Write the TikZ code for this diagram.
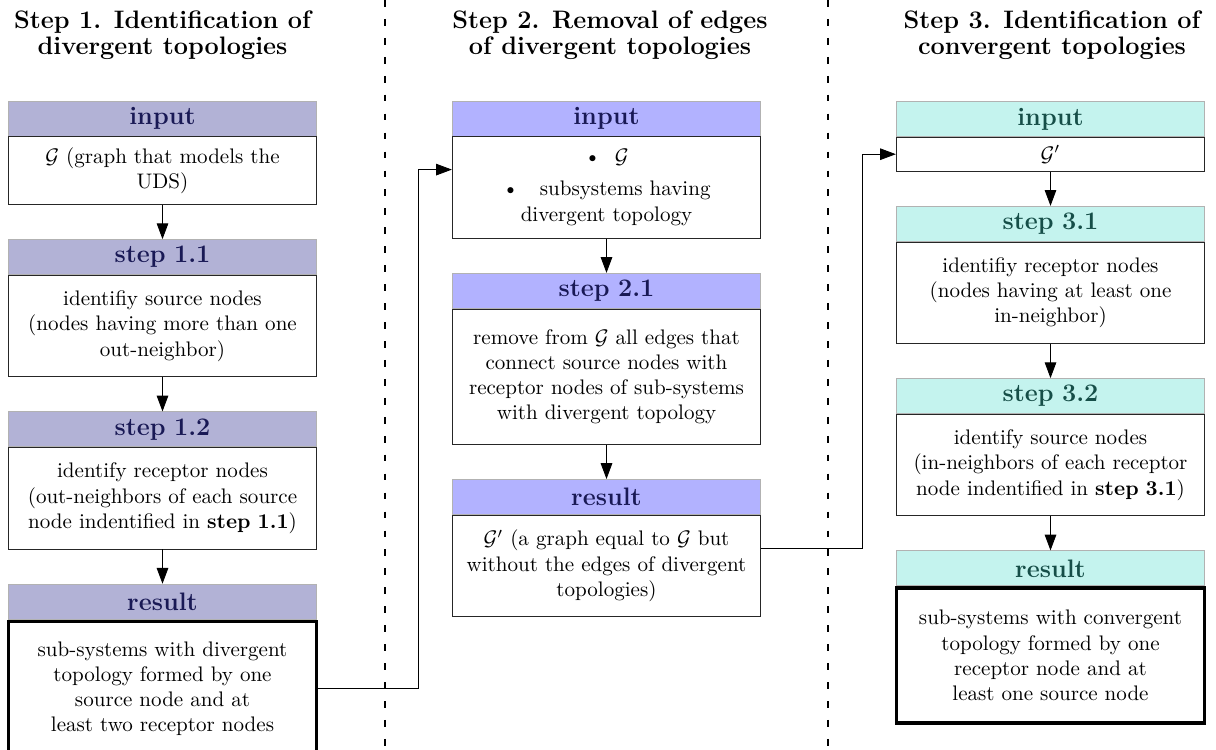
\documentclass[tikz,border=0pt]{standalone}
\usepackage{amsmath}
\usepackage{amsfonts}
\usepackage{xcolor}
\usepackage{tikz}
\usetikzlibrary{arrows.meta,positioning}

\definecolor{stepA}{RGB}{178,178,214}
\definecolor{stepB}{RGB}{178,178,255}
\definecolor{stepC}{RGB}{196,243,238}
\definecolor{inkA}{RGB}{25,25,85}
\definecolor{inkC}{RGB}{22,78,72}

\begin{document}
\begin{tikzpicture}[x=0.475pt,y=0.475pt,>={Triangle[length=7.5pt,width=5.5pt]},node distance=16.3pt]
\useasboundingbox (0,0) rectangle (1216,-750);
\tikzset{hdr/.style={draw=gray!60,text width=140.5pt,inner xsep=3pt,inner ysep=0pt,minimum height=16.6pt,align=center,font=\large\bfseries}}
\tikzset{hdrA/.style={hdr,fill=stepA,text=inkA},hdrB/.style={hdr,fill=stepB,text=inkA},hdrC/.style={hdr,fill=stepC,text=inkC}}
\tikzset{panel/.style={draw=black!85,fill=white,text width=140.5pt,inner xsep=3pt,inner ysep=2pt,align=center,minimum height=#1*16.05pt}}
\tikzset{panelend/.style={panel=#1,draw=black,ultra thick}}
\tikzset{ttl/.style={align=center,font=\fontsize{12}{12.5}\selectfont\bfseries}}
% titles
\node[ttl] (t1) at (162.5,-35)  {Step 1. Identification of\\divergent topologies};
\node[ttl] (t2) at (610,-35)    {Step 2. Removal of edges\\of divergent topologies};
\node[ttl] (t3) at (1052,-35)   {Step 3. Identification of\\convergent topologies};
\draw[dash pattern=on 3.2pt off 5.8pt,semithick] (385,0) -- (385,-750) (828,0) -- (828,-750);
% step 1
\node[hdrA]       (in1h)  at (162.5,-118.5)   {input};
\node[panel=2]    (in1)   [below=0pt of in1h] {$\mathcal{G}$ (graph that models the\\UDS)};
\node[hdrA]       (s11h)  [below=of in1]      {step 1.1};
\node[panel=3]    (s11)   [below=0pt of s11h] {identifiy source nodes\\(nodes having more than one\\out-neighbor)};
\node[hdrA]       (s12h)  [below=of s11]      {step 1.2};
\node[panel=3]    (s12)   [below=0pt of s12h] {identify receptor nodes\\(out-neighbors of each source\\node indentified in \textbf{step 1.1})};
\node[hdrA]       (res1h) [below=of s12]      {result};
\node[panelend=4] (res1)  [below=0pt of res1h] {sub-systems with divergent\\topology formed by one\\source node and at\\least two receptor nodes};
% step 2
\node[hdrB]       (in2h)  at (606.5,-118.5)   {input};
\node[panel=3]    (in2)   [below=0pt of in2h] {\textbullet~~$\mathcal{G}$\\[3.3pt]\textbullet\quad subsystems having\\divergent topology};
\node[hdrB]       (s21h)  [below=of in2]      {step 2.1};
\node[panel=4]    (s21)   [below=0pt of s21h] {remove from $\mathcal{G}$ all edges that\\connect source nodes with\\receptor nodes of sub-systems\\with divergent topology};
\node[hdrB]       (res2h) [below=of s21]      {result};
\node[panel=3]    (res2)  [below=0pt of res2h] {$\mathcal{G}'$ (a graph equal to $\mathcal{G}$ but\\without the edges of divergent\\topologies)};
% step 3
\node[hdrC]       (in3h)  at (1050.5,-119)    {input};
\node[panel=1]    (in3)   [below=0pt of in3h] {$\mathcal{G}'$};
\node[hdrC]       (s31h)  [below=of in3]      {step 3.1};
\node[panel=3]    (s31)   [below=0pt of s31h] {identifiy receptor nodes\\(nodes having at least one\\in-neighbor)};
\node[hdrC]       (s32h)  [below=of s31]      {step 3.2};
\node[panel=3]    (s32)   [below=0pt of s32h] {identify source nodes\\(in-neighbors of each receptor\\node indentified in \textbf{step 3.1})};
\node[hdrC]       (res3h) [below=of s32]      {result};
\node[panelend=4] (res3)  [below=0pt of res3h] {sub-systems with convergent\\topology formed by one\\receptor node and at\\least one source node};
% arrows
\path (in1)  edge[->] (s11h)
      (s11)  edge[->] (s12h)
      (s12)  edge[->] (res1h)
      (in2)  edge[->] (s21h)
      (s21)  edge[->] (res2h)
      (in3)  edge[->] (s31h)
      (s31)  edge[->] (s32h)
      (s32)  edge[->] (res3h);
\path (in2h.north west) -- (in2.south west) coordinate[midway] (in2w);
\path (res2h.north east) -- (res2.south east) coordinate[midway] (res2e);
\draw[->] (res1.east) -| ([xshift=-16pt]in2w) -- (in2w);
\draw[->] (res2e) -| ([xshift=-16pt]in3.west) -- (in3.west);
\end{tikzpicture}
\end{document}
